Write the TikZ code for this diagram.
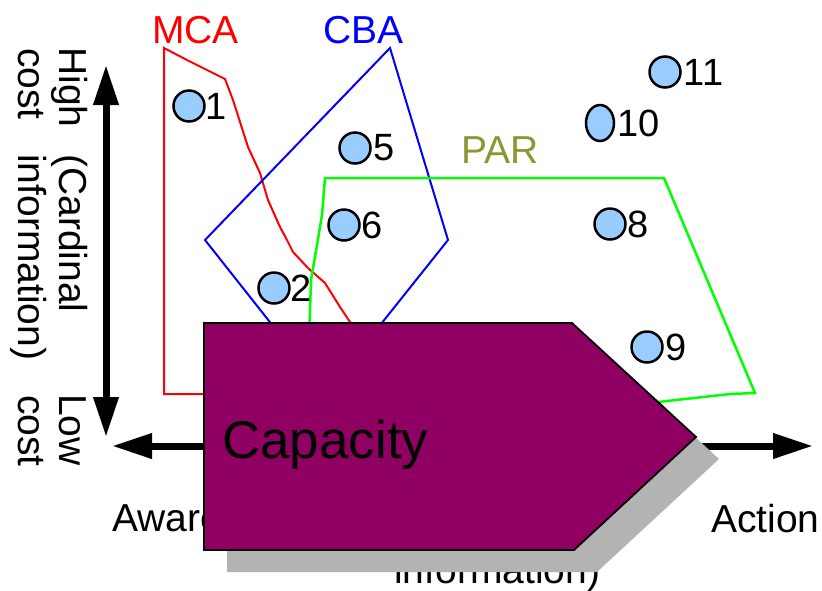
\documentclass[tikz,border=0pt]{standalone}
\usepackage{fontspec}
\setmainfont{Liberation Sans}
\usetikzlibrary{arrows.meta,shapes.geometric}
\definecolor{ptblue}{RGB}{153,204,255}
\definecolor{capfill}{RGB}{144,0,98}
\definecolor{shadowgray}{RGB}{179,179,179}
\definecolor{parolive}{RGB}{140,150,50}
\begin{document}
\begin{tikzpicture}[x=1pt,y=-1pt,
  txt/.style={font=\fontsize{39}{47}\selectfont, inner sep=0pt, anchor=base west},
  vtxt/.style={txt, rotate=-90},
  pt/.style={circle, draw=black, line width=2.5pt, fill=ptblue, minimum size=31pt, inner sep=0pt},
  num/.style={font=\fontsize{38}{46}\selectfont, inner sep=0pt, anchor=west},
  axisline/.style={line width=7pt, {Triangle[length=40pt,width=24pt]}-{Triangle[length=40pt,width=24pt]}},
  poly/.style={line width=2pt, line join=miter}
]
\useasboundingbox (0,0) rectangle (822,590);

% hidden/partly hidden texts
\node[txt] (aware) at (112,531) {Awareness};
\node[txt] (info) at (394,583) {information)};
\node[txt] (action) at (711,532) {Action};

% vertical axis labels
\node[vtxt] (high) at (59,47) {High};
\node[vtxt] (card) at (59,154) {(Cardinal};
\node[vtxt] (low) at (59,394) {Low};
\node[vtxt] (cost1) at (18,48) {cost};
\node[vtxt] (infoc) at (18,154) {information)};
\node[vtxt] (cost2) at (18,395) {cost};

% axes
\coordinate (vtop) at (106,65);
\coordinate (vbot) at (106,437);
\coordinate (hl) at (112,446);
\coordinate (hr) at (813,446);
\draw[axisline] (vtop) -- (vbot);
\draw[axisline] (hl) -- (hr);

% group titles
\node[txt, text=red] (mca) at (152,43) {MCA};
\node[txt, text=blue] (cba) at (323,43) {CBA};
\node[txt, text=parolive] (par) at (461,163) {PAR};

% MCA region
\draw[poly, red] (203,394) -- (164,394) -- (164,48) -- (187,60) -- (213,73) -- (225,79)
  -- (233,100) -- (248,147) -- (260,173) -- (268,200) -- (280,227) -- (287,240)
  -- (293,252) -- (308,268) -- (325,283) -- (340,307) -- (350,322) -- (365,345);

% CBA region
\draw[poly, blue] (390,48) -- (448,240) -- (326,393) -- (205,240) -- cycle;

% PAR region
\draw[poly, green, line width=2.5pt] (309,340) -- (311,280) -- (317,245) -- (322,215) -- (325,178)
  -- (664,178) -- (755,393) -- (730,394) -- (640,404);

% points
\node[pt] (p1) at (189,106) {};
\node[pt] (p11) at (665,72) {};
\node[pt, ellipse, minimum width=28pt, minimum height=36pt] (p10) at (600,123) {};
\node[pt] (p5) at (355,148) {};
\node[pt] (p6) at (344,225) {};
\node[pt] (p8) at (610,224) {};
\node[pt] (p2) at (274,288) {};
\node[pt] (p9) at (647,347) {};

\node[num] (l1) at ([xshift=0pt]p1.east) {1};
\node[num] (l11) at ([xshift=2pt]p11.east) {11};
\node[num] (l10) at ([xshift=2pt]p10.east) {10};
\node[num] (l5) at ([xshift=2pt]p5.east) {5};
\node[num] (l6) at ([xshift=1pt]p6.east) {6};
\node[num] (l8) at ([xshift=1pt]p8.east) {8};
\node[num] (l2) at ([xshift=0pt]p2.east) {2};
\node[num] (l9) at ([xshift=2pt]p9.east) {9};

% capacity arrow shape with shadow
\fill[shadowgray] (227,345) -- (595,345) -- (719,459) -- (597,572) -- (227,572) -- cycle;
\draw[fill=capfill, draw=black, line width=1.8pt] (204,323) -- (572,323) -- (696,437) -- (574,550) -- (204,550) -- cycle;
\node[txt, font=\fontsize{53}{62}\selectfont] (cap) at (222,458) {Capacity};
\end{tikzpicture}
\end{document}
